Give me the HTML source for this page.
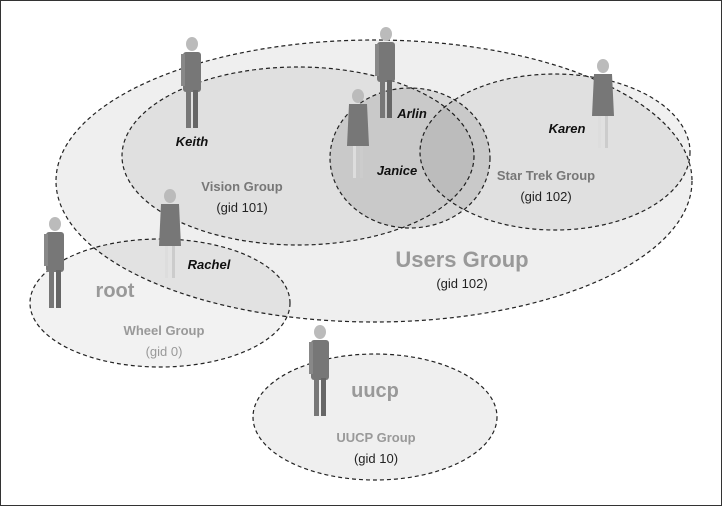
<!DOCTYPE html>
<html><head><style>
html,body{margin:0;padding:0;background:#fff}
svg{display:block}
text{font-family:"Liberation Sans",sans-serif}
</style></head><body>
<svg width="722" height="506" viewBox="0 0 722 506" xmlns="http://www.w3.org/2000/svg">
<defs>
<g id="p">
 <ellipse cx="0" cy="-4" rx="6" ry="7" fill="#bbb"/>
 <rect x="-9" y="4" width="18" height="40" rx="3" fill="#777"/>
 <rect x="-11" y="6" width="4" height="32" fill="#888"/>
 <rect x="-6" y="42" width="5" height="38" fill="#777"/>
 <rect x="1" y="42" width="5" height="38" fill="#666"/>
</g>
<g id="f">
 <ellipse cx="0" cy="-4" rx="6" ry="7" fill="#bbb"/>
 <path d="M-9 4 H9 L11 46 H-11 Z" fill="#777"/>
 <rect x="-5" y="46" width="3" height="32" fill="#ddd"/>
 <rect x="2" y="46" width="3" height="32" fill="#ccc"/>
</g>
</defs>
<rect x="0.5" y="0.5" width="721" height="505" fill="#fff" stroke="#333"/>
<g stroke="#222" stroke-width="1.2" stroke-dasharray="4,3">
<ellipse cx="374" cy="181" rx="318" ry="141" fill="#efefef"/>
<ellipse cx="160" cy="303" rx="130" ry="64" fill="rgba(0,0,0,0.05)"/>
<ellipse cx="298" cy="156" rx="176" ry="89" fill="rgba(0,0,0,0.06)"/>
<ellipse cx="555" cy="152" rx="135" ry="78" fill="rgba(0,0,0,0.06)"/>
<ellipse cx="410" cy="158" rx="80" ry="70" fill="rgba(0,0,0,0.1)"/>
<ellipse cx="375" cy="417" rx="122" ry="63" fill="#efefef"/>
</g>
<use href="#p" x="192" y="48"/>
<use href="#p" x="386" y="38"/>
<use href="#f" x="358" y="100"/>
<use href="#f" x="603" y="70"/>
<use href="#f" x="170" y="200"/>
<use href="#p" x="55" y="228"/>
<use href="#p" x="320" y="336"/>
<g font-weight="bold" font-style="italic" font-size="13" fill="#111" text-anchor="middle">
<text x="192" y="146">Keith</text>
<text x="412" y="118">Arlin</text>
<text x="397" y="175">Janice</text>
<text x="567" y="133">Karen</text>
<text x="209" y="269">Rachel</text>
</g>
<g text-anchor="middle" fill="#555" font-size="13">
<text x="242" y="191" font-weight="bold" fill="#777">Vision Group</text>
<text x="242" y="212" fill="#222">(gid 101)</text>
<text x="546" y="180" font-weight="bold" fill="#777">Star Trek Group</text>
<text x="546" y="201" fill="#222">(gid 102)</text>
<text x="462" y="267" font-weight="bold" font-size="22" fill="#999">Users Group</text>
<text x="462" y="288" fill="#222">(gid 102)</text>
<text x="115" y="297" font-weight="bold" font-size="20" fill="#999">root</text>
<text x="164" y="335" font-weight="bold" fill="#999">Wheel Group</text>
<text x="164" y="356" fill="#999">(gid 0)</text>
<text x="375" y="397" font-weight="bold" font-size="20" fill="#999">uucp</text>
<text x="376" y="442" font-weight="bold" fill="#999">UUCP Group</text>
<text x="376" y="463" fill="#222">(gid 10)</text>
</g>
</svg>
</body></html>
